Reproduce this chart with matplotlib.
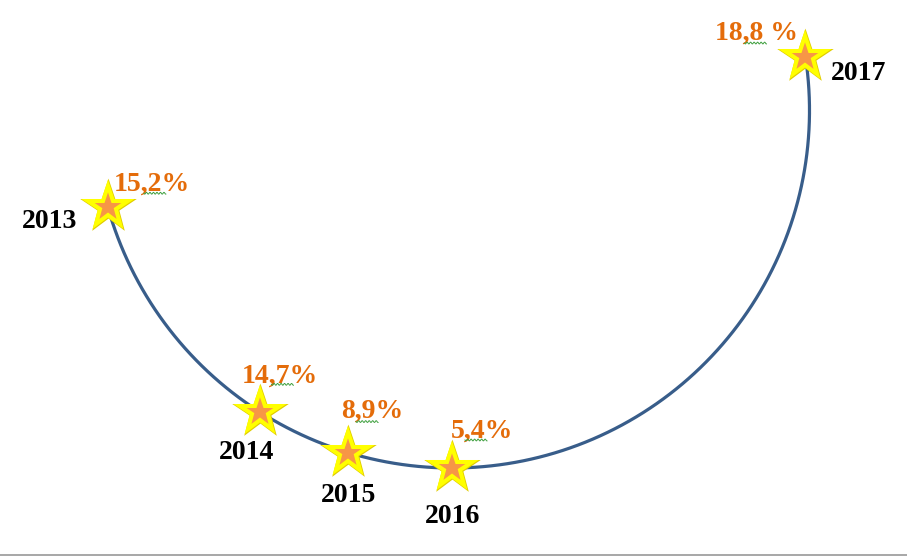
import numpy as np
import matplotlib
matplotlib.use("Agg")
import matplotlib.pyplot as plt
from matplotlib.markers import MarkerStyle

# data
years = ["2013", "2014", "2015", "2016", "2017"]
values = ["15,2%", "14,7%", "8,9%", "5,4%", "18,8 %"]

# layout: where each star sits on the arc (degrees, screen coords, y down)
arcAngles = [164.3, 122.4, 106.9, 90.0, -8.6]
# label offsets from star centre, in pixels (baseline of text)
yearOffsets = [(-58, 21), (-14, 47), (0, 49), (1, 55), (53, 23)]
valueOffsets = [(44, -17), (19, -30), (24, -35), (30, -30), (-49, -17)]
squiggleOffsets = [(3, 3), (3, 2), (-5, 4), (-6, 2), (-1, 3)]

W, H = 907, 556
cx, cy, r = 452.0, 110.5, 357.5

fig = plt.figure(figsize=(W / 100, H / 100), dpi=100)
ax = fig.add_axes([0, 0, 1, 1])
ax.set_xlim(0, W)
ax.set_ylim(H, 0)
ax.axis("off")

# the arc
t = np.deg2rad(np.linspace(arcAngles[0], arcAngles[-1], 400))
ax.plot(cx + r * np.cos(t), cy + r * np.sin(t), color="#385D8A", lw=2.3,
        solid_capstyle="butt", zorder=1)

# bottom rule
ax.axhline(554.5, color="#A0A0A0", lw=1.3)

font = dict(family=["Liberation Serif", "DejaVu Serif"], weight="bold", size=20)
star = MarkerStyle("*", joinstyle="miter")

for i in range(len(years)):
    a = np.deg2rad(arcAngles[i])
    sx, sy = cx + r * np.cos(a), cy + r * np.sin(a)
    # thin gold rim, then thick yellow outline around the orange star
    ax.plot(sx, sy, marker=star, ms=30, mfc="#F79646", mec="#E0CC00", mew=3.6, zorder=3)
    ax.plot(sx, sy, marker=star, ms=30, mfc="#F79646", mec="#FFFF00", mew=2.9, zorder=4)

    yx, yy = sx + yearOffsets[i][0], sy + yearOffsets[i][1]
    ax.text(yx, yy, years[i], ha="center", va="baseline", color="black", **font)

    vx, vy = sx + valueOffsets[i][0], sy + valueOffsets[i][1]
    ax.text(vx, vy, values[i], ha="center", va="baseline", color="#E46C0A", **font)

    # spell-check squiggle under the value
    qx = vx + squiggleOffsets[i][0]
    qy = vy + squiggleOffsets[i][1]
    xs = np.linspace(qx - 11, qx + 11, 60)
    ax.plot(xs, qy + 0.9 * np.sin((xs - xs[0]) * 2 * np.pi / 3.5), color="#3FA03F", lw=0.7, zorder=5)

fig.savefig("out.png", dpi=100)
